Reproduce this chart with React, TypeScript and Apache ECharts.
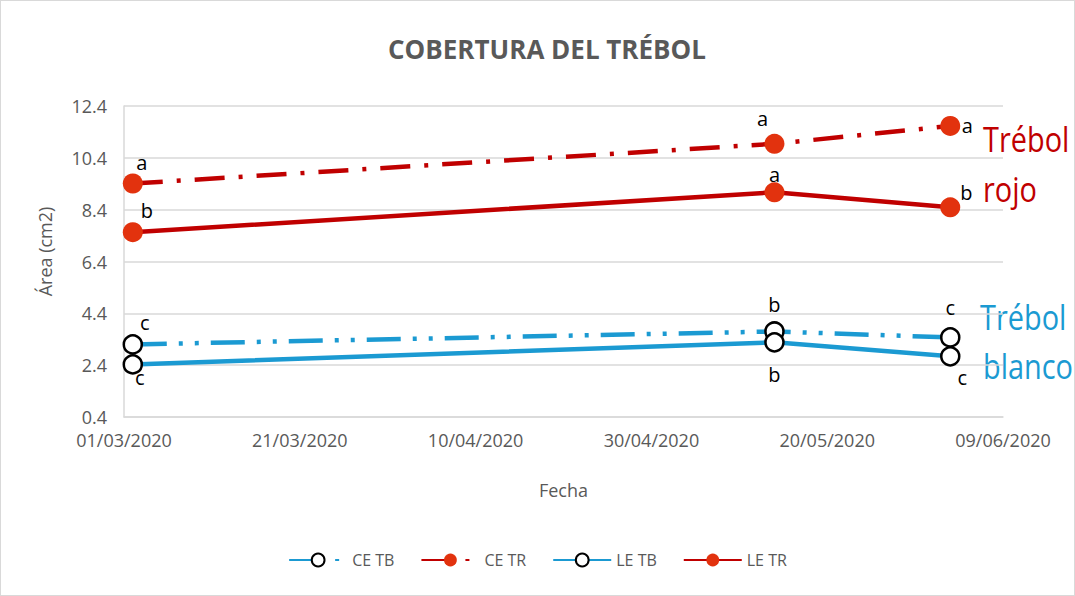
import React, { useEffect, useRef } from "react";
import * as echarts from "echarts";

const seriesNames = ["CE TB", "CE TR", "LE TB", "LE TR"];
const sampleDates = ["2020-03-02", "2020-05-14", "2020-06-03"];
const ceTB = [3.2, 3.7, 3.47];
const ceTR = [9.41, 10.94, 11.63];
const leTB = [2.43, 3.28, 2.74];
const leTR = [7.53, 9.07, 8.49];
const ceTBLetters = ["c", "b", "c"];
const ceTRLetters = ["a", "a", "a"];
const leTBLetters = ["c", "b", "c"];
const leTRLetters = ["b", "a", "b"];
const xTickLabels = ["2020-03-01", "2020-03-21", "2020-04-10", "2020-04-30", "2020-05-20", "2020-06-09"];
const yTickLabels = ["0.4", "2.4", "4.4", "6.4", "8.4", "10.4", "12.4"];

const ts = (d: string) => Date.parse(d + "T00:00:00Z");
const pad = (n: number) => (n < 10 ? "0" + n : "" + n);
const fmtDate = (v: number) => {
  const d = new Date(v);
  return pad(d.getUTCDate()) + "/" + pad(d.getUTCMonth() + 1) + "/" + d.getUTCFullYear();
};

const RED_LINE = "#C00000";
const RED_MARK = "#E2320E";
const BLUE = "#1B9AD2";
const GRAY = "#595959";
const FONT = "'Open Sans', sans-serif";

export default function App() {
  const ref = useRef<HTMLDivElement>(null);
  useEffect(() => {
    if (!ref.current) return;
    const chart = echarts.init(ref.current, null, { renderer: "svg" });

    const mk = (vals: number[], letters: string[], offsets: number[][]) =>
      vals.map((v, i) => ({
        value: [ts(sampleDates[i]), v],
        label: { offset: offsets[i] },
        letter: letters[i],
      }));

    const labelBase = {
      show: true,
      position: "inside",
      color: "#000",
      fontSize: 20,
      fontFamily: FONT,
      formatter: (p: any) => p.data.letter,
    };

    const openSym = { color: "#fff", borderColor: "#000", borderWidth: 2.5 };
    const fullSym = { color: RED_MARK, borderWidth: 0 };

    const sideText = (text: string, x: number, y: number, fill: string) => ({
      type: "text",
      x,
      y,
      scaleX: 0.85,
      style: { text, fill, fontSize: 34, fontFamily: FONT, verticalAlign: "middle", align: "left" },
    });

    chart.setOption({
      animation: false,
      backgroundColor: "#fff",
      title: {
        text: "COBERTURA DEL TRÉBOL",
        left: 541,
        textAlign: "center",
        top: 30,
        textStyle: { color: GRAY, fontSize: 26, fontWeight: "bold", fontFamily: FONT },
      },
      legend: {
        bottom: 22,
        left: "center",
        itemWidth: 58,
        itemHeight: 16,
        itemGap: 26,
        textStyle: { color: GRAY, fontSize: 16, fontFamily: FONT },
        data: seriesNames,
      },
      grid: { left: 123, right: 71, top: 105, bottom: 178 },
      xAxis: {
        type: "value",
        min: ts(xTickLabels[0]),
        max: ts(xTickLabels[xTickLabels.length - 1]),
        name: "Fecha",
        nameLocation: "middle",
        nameGap: 64,
        nameTextStyle: { color: GRAY, fontSize: 18, fontFamily: FONT },
        axisLine: { show: true, lineStyle: { color: "#D9D9D9", width: 1.5 } },
        axisTick: { show: false, customValues: xTickLabels.map(ts) },
        splitLine: { show: false },
        axisLabel: {
          customValues: xTickLabels.map(ts),
          formatter: (v: number) => fmtDate(v),
          color: GRAY,
          fontSize: 18,
          fontFamily: FONT,
          margin: 14,
        },
      },
      yAxis: {
        type: "value",
        min: 0.4,
        max: 12.4,
        name: "Área (cm2)",
        nameLocation: "middle",
        nameGap: 70,
        nameTextStyle: { color: GRAY, fontSize: 18, fontFamily: FONT, padding: [0, 0, 0, 20] },
        axisLine: { show: true, lineStyle: { color: "#D9D9D9", width: 1.5 } },
        axisTick: { show: false, customValues: yTickLabels.map(Number) },
        splitLine: { show: true, lineStyle: { color: "#D9D9D9", width: 1.5 } },
        axisLabel: {
          customValues: yTickLabels.map(Number),
          formatter: (v: number) => v.toFixed(1),
          color: GRAY,
          fontSize: 18,
          fontFamily: FONT,
          margin: 17,
        },
      },
      graphic: [
        sideText("Trébol", 982, 138, RED_LINE),
        sideText("rojo", 982, 188, RED_LINE),
        sideText("Trébol", 979, 316, BLUE),
        sideText("blanco", 982, 365, BLUE),
      ],
      series: [
        {
          name: "CE TB",
          type: "line",
          data: mk(ceTB, ceTBLetters, [[12, -22], [0, -27], [0, -30]]),
          symbol: "circle",
          symbolSize: 18,
          itemStyle: openSym,
          lineStyle: { color: BLUE, width: 4.5, type: [34, 12, 4, 12, 4, 12] },
          label: labelBase,
          z: 3,
        },
        {
          name: "CE TR",
          type: "line",
          data: mk(ceTR, ceTRLetters, [[9, -21], [-12, -25], [17, 0]]),
          symbol: "circle",
          symbolSize: 20,
          itemStyle: fullSym,
          lineStyle: { color: RED_LINE, width: 4.5, type: [30, 14, 4, 14] },
          label: labelBase,
          z: 3,
        },
        {
          name: "LE TB",
          type: "line",
          data: mk(leTB, leTBLetters, [[7, 13], [0, 32], [12, 21]]),
          symbol: "circle",
          symbolSize: 18,
          itemStyle: openSym,
          lineStyle: { color: BLUE, width: 4.5 },
          label: labelBase,
          z: 4,
        },
        {
          name: "LE TR",
          type: "line",
          data: mk(leTR, leTRLetters, [[14, -22], [0, -18], [16, -15]]),
          symbol: "circle",
          symbolSize: 20,
          itemStyle: fullSym,
          lineStyle: { color: RED_LINE, width: 4.5 },
          label: labelBase,
          z: 4,
        },
      ],
    });
    return () => chart.dispose();
  }, []);

  return (
    <div
      style={{
        position: "absolute",
        left: 0,
        top: 0,
        width: 1073,
        height: 594,
        border: "1px solid #D9D9D9",
        background: "#fff",
      }}
    >
      <div ref={ref} style={{ width: 1073, height: 594 }} />
    </div>
  );
}
